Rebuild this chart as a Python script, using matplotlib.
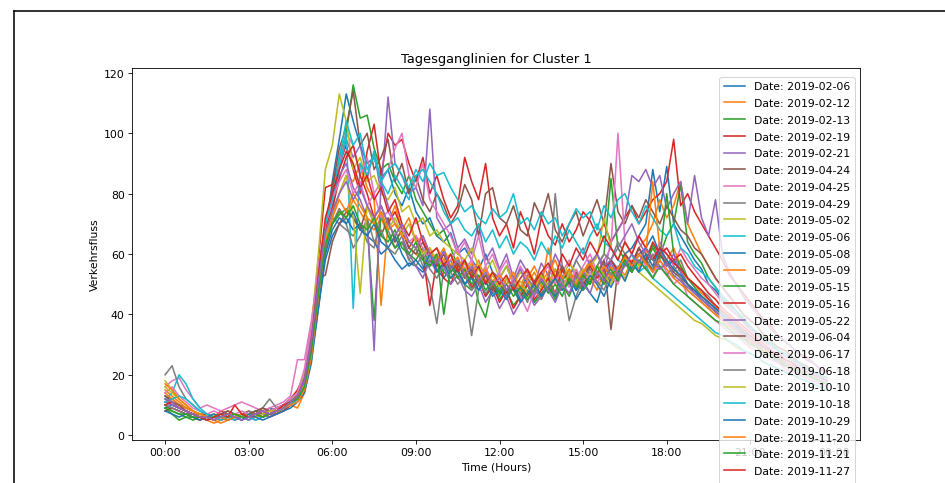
import pandas as pd
import matplotlib
matplotlib.use("Agg")
import matplotlib.pyplot as plt
import matplotlib.dates as mdates

# Daily flow curves (15-min values) for the days in cluster 1
dates = ["2019-02-06", "2019-02-12", "2019-02-13", "2019-02-19", "2019-02-21",
         "2019-04-24", "2019-04-25", "2019-04-29", "2019-05-02", "2019-05-06",
         "2019-05-08", "2019-05-09", "2019-05-15", "2019-05-16", "2019-05-22",
         "2019-06-04", "2019-06-17", "2019-06-18", "2019-10-10", "2019-10-18",
         "2019-10-29", "2019-11-20", "2019-11-21", "2019-11-27", "2019-12-04"]

d0206 = [11, 10, 9, 8, 7, 7, 6, 6, 7, 6, 7, 6, 7, 8, 7, 9, 8, 10, 11, 13, 18, 30, 47, 66,
         84, 98, 113, 104, 96, 90, 92, 85, 88, 80, 76, 82, 74, 70, 72, 66, 64, 67, 60, 62, 58, 55, 60, 54,
         52, 56, 50, 48, 53, 51, 46, 50, 55, 49, 52, 48, 54, 50, 56, 53, 58, 55, 60, 62, 66, 70, 88, 74,
         89, 70, 66, 62, 58, 55, 50, 48, 45, 42, 40, 38, 35, 34, 31, 30, 28, 26, 25, 23, 22, 21, 19, 18]
d0212 = [15, 13, 11, 9, 8, 7, 6, 5, 4, 5, 6, 5, 6, 7, 6, 7, 8, 9, 10, 12, 16, 27, 44, 60,
         72, 80, 86, 84, 90, 82, 78, 43, 70, 76, 68, 72, 64, 66, 60, 62, 58, 60, 55, 57, 53, 58, 51, 54,
         50, 47, 52, 49, 55, 51, 48, 53, 50, 56, 52, 49, 54, 58, 53, 50, 56, 52, 60, 57, 62, 65, 70, 78,
         72, 76, 84, 70, 65, 60, 56, 52, 49, 46, 43, 40, 38, 36, 33, 31, 29, 28, 26, 24, 23, 21, 20, 18]
d0213 = [9, 7, 5, 6, 6, 5, 7, 6, 5, 6, 6, 7, 6, 6, 8, 7, 8, 9, 11, 13, 17, 29, 50, 68,
         80, 92, 100, 116, 105, 106, 95, 88, 90, 84, 80, 86, 78, 74, 70, 66, 68, 62, 56, 58, 54, 44, 39, 50,
         46, 52, 48, 44, 50, 47, 53, 49, 46, 51, 55, 50, 48, 52, 56, 60, 85, 62, 58, 55, 60, 57, 63, 59,
         66, 70, 83, 64, 60, 57, 52, 49, 46, 43, 41, 38, 36, 34, 32, 30, 28, 27, 25, 24, 22, 21, 19, 18]
d0219 = [12, 10, 9, 8, 7, 6, 7, 6, 8, 7, 6, 7, 8, 7, 9, 8, 9, 10, 12, 15, 20, 35, 58, 82,
         83, 90, 96, 88, 80, 94, 103, 86, 100, 96, 98, 90, 84, 92, 80, 86, 78, 72, 76, 92, 84, 78, 90, 72,
         66, 70, 62, 74, 68, 60, 72, 66, 63, 70, 64, 68, 74, 71, 66, 70, 64, 68, 72, 76, 70, 74, 78, 80,
         84, 98, 76, 80, 74, 70, 66, 62, 58, 53, 50, 47, 44, 41, 38, 36, 33, 31, 29, 27, 26, 24, 22, 21]
d0221 = [10, 9, 8, 7, 7, 6, 6, 5, 6, 6, 7, 6, 6, 5, 6, 7, 8, 8, 10, 12, 17, 30, 50, 66,
         76, 88, 98, 92, 96, 85, 94, 80, 112, 90, 86, 80, 82, 76, 108, 72, 68, 70, 62, 65, 60, 70, 58, 62,
         55, 60, 52, 58, 54, 50, 57, 53, 60, 55, 52, 58, 62, 56, 60, 54, 64, 68, 72, 86, 84, 88, 82, 86,
         75, 80, 84, 70, 86, 72, 66, 78, 60, 54, 50, 46, 43, 40, 38, 35, 33, 31, 29, 27, 25, 24, 22, 20]
d0424 = [13, 12, 10, 9, 8, 7, 7, 6, 7, 8, 7, 6, 7, 8, 7, 8, 9, 10, 12, 14, 19, 31, 52, 70,
         82, 95, 102, 114, 96, 100, 88, 92, 98, 84, 90, 80, 86, 78, 74, 80, 76, 70, 74, 83, 78, 66, 80, 82,
         72, 70, 76, 68, 66, 77, 72, 80, 68, 64, 70, 74, 66, 72, 78, 70, 90, 74, 70, 76, 72, 78, 74, 70,
         76, 72, 68, 66, 62, 60, 56, 52, 49, 46, 43, 40, 38, 36, 33, 31, 29, 28, 26, 24, 23, 21, 20, 19]
d0425 = [16, 18, 19, 15, 12, 9, 10, 9, 8, 9, 10, 11, 10, 9, 8, 9, 10, 11, 13, 25, 25, 38, 55, 68,
         78, 90, 100, 96, 86, 92, 80, 84, 88, 95, 100, 86, 82, 90, 78, 74, 70, 66, 60, 64, 58, 66, 56, 60,
         54, 58, 50, 56, 52, 48, 53, 56, 50, 54, 58, 52, 56, 60, 54, 58, 62, 100, 64, 60, 66, 62, 58, 64,
         60, 56, 62, 58, 55, 52, 50, 47, 44, 42, 40, 37, 35, 33, 31, 29, 28, 26, 25, 23, 22, 21, 19, 18]
d0429 = [20, 23, 16, 12, 10, 8, 7, 6, 7, 6, 7, 6, 8, 7, 9, 12, 9, 10, 12, 14, 18, 29, 50, 66,
         72, 70, 68, 66, 70, 64, 62, 72, 68, 62, 66, 58, 62, 56, 50, 37, 55, 58, 52, 50, 33, 48, 53, 50,
         50, 47, 52, 49, 44, 50, 53, 48, 80, 56, 52, 58, 54, 50, 56, 60, 58, 64, 60, 56, 62, 58, 55, 60,
         57, 54, 58, 52, 50, 48, 46, 43, 41, 39, 37, 34, 32, 30, 29, 27, 25, 24, 22, 21, 20, 19, 18, 17]
d0502 = [18, 15, 12, 10, 8, 7, 6, 7, 6, 7, 6, 7, 6, 7, 8, 7, 8, 10, 11, 14, 20, 36, 60, 88,
         96, 113, 104, 88, 92, 84, 86, 80, 78, 82, 74, 76, 70, 72, 66, 68, 64, 62, 60, 58, 62, 56, 54, 58,
         52, 56, 50, 54, 51, 48, 53, 50, 55, 52, 57, 54, 50, 56, 59, 72, 62, 58, 64, 60, 56, 62, 59, 55,
         58, 52, 56, 50, 48, 46, 44, 42, 40, 38, 36, 34, 32, 31, 29, 28, 26, 25, 24, 22, 21, 20, 19, 18]
d0506 = [12, 14, 20, 17, 12, 9, 7, 6, 5, 6, 7, 6, 5, 7, 6, 8, 7, 9, 10, 12, 16, 28, 48, 66,
         74, 88, 100, 42, 90, 86, 94, 84, 88, 90, 86, 82, 88, 84, 90, 86, 87, 82, 78, 74, 76, 72, 70, 75,
         72, 74, 80, 70, 72, 68, 74, 70, 72, 66, 70, 75, 72, 74, 68, 76, 72, 78, 80, 74, 70, 76, 72, 68,
         66, 70, 62, 60, 56, 54, 52, 49, 46, 44, 41, 39, 36, 34, 32, 30, 28, 27, 25, 24, 22, 21, 20, 19]
d0508 = [9, 10, 9, 8, 7, 6, 5, 6, 6, 5, 6, 7, 6, 7, 6, 7, 7, 9, 10, 12, 15, 26, 42, 58,
         66, 70, 72, 68, 70, 66, 64, 60, 62, 58, 55, 57, 56, 54, 58, 55, 52, 56, 54, 50, 52, 48, 51, 47,
         49, 46, 50, 45, 48, 44, 47, 50, 46, 49, 52, 48, 51, 47, 44, 52, 49, 54, 58, 55, 60, 62, 66, 60,
         56, 58, 54, 50, 48, 45, 43, 41, 39, 37, 35, 33, 31, 29, 27, 26, 24, 23, 22, 20, 19, 18, 17, 16]
d0509 = [14, 12, 10, 9, 8, 6, 5, 4, 5, 6, 5, 6, 7, 6, 7, 8, 7, 9, 10, 9, 14, 25, 44, 62,
         70, 75, 72, 78, 74, 70, 68, 72, 66, 64, 68, 62, 60, 58, 62, 56, 58, 54, 57, 52, 55, 50, 53, 49,
         51, 48, 52, 46, 50, 54, 49, 62, 52, 48, 53, 50, 55, 52, 48, 54, 51, 56, 53, 58, 55, 60, 84, 62,
         58, 62, 56, 52, 50, 47, 45, 43, 40, 38, 36, 34, 32, 30, 28, 27, 25, 24, 22, 21, 20, 19, 18, 17]
d0515 = [10, 8, 7, 6, 5, 6, 6, 5, 6, 7, 6, 6, 7, 6, 7, 7, 8, 9, 11, 13, 18, 30, 48, 64,
         70, 73, 75, 72, 68, 70, 38, 74, 66, 62, 64, 60, 58, 62, 56, 58, 54, 52, 55, 50, 48, 52, 46, 49,
         45, 48, 43, 46, 50, 44, 47, 49, 45, 50, 46, 52, 48, 51, 54, 50, 53, 55, 58, 54, 60, 57, 62, 58,
         80, 60, 56, 52, 49, 46, 44, 42, 40, 38, 36, 34, 32, 30, 29, 27, 25, 24, 23, 21, 20, 19, 18, 17]
d0516 = [8, 9, 8, 7, 6, 5, 6, 5, 6, 5, 6, 7, 6, 6, 7, 6, 7, 8, 10, 12, 17, 30, 50, 68,
         75, 85, 92, 96, 86, 80, 72, 76, 70, 74, 68, 62, 66, 60, 43, 58, 52, 50, 56, 55, 49, 52, 46, 50,
         44, 48, 42, 46, 50, 45, 48, 52, 47, 55, 50, 53, 49, 56, 52, 55, 58, 54, 60, 57, 62, 58, 64, 60,
         62, 58, 60, 56, 53, 50, 47, 45, 42, 40, 38, 36, 34, 32, 30, 28, 27, 25, 24, 22, 21, 20, 19, 18]
d0522 = [11, 10, 9, 8, 7, 6, 5, 6, 5, 6, 5, 6, 5, 6, 7, 6, 8, 9, 11, 13, 19, 33, 54, 70,
         80, 86, 90, 82, 78, 72, 28, 84, 76, 70, 66, 60, 56, 52, 58, 54, 56, 50, 53, 48, 46, 50, 44, 48,
         42, 46, 40, 44, 48, 43, 46, 50, 52, 48, 54, 50, 53, 57, 60, 56, 58, 62, 66, 70, 64, 60, 58, 62,
         56, 60, 54, 50, 48, 46, 44, 42, 40, 38, 36, 34, 32, 30, 28, 27, 25, 24, 23, 21, 20, 19, 18, 17]
d0604 = [13, 11, 10, 8, 7, 6, 7, 6, 7, 8, 7, 6, 7, 8, 9, 8, 9, 10, 11, 13, 17, 28, 52, 53,
         64, 70, 74, 72, 68, 76, 70, 66, 72, 64, 68, 62, 60, 64, 58, 56, 60, 54, 57, 52, 55, 50, 53, 48,
         50, 47, 52, 49, 46, 51, 54, 48, 52, 56, 50, 54, 51, 57, 53, 58, 35, 55, 60, 56, 62, 58, 54, 60,
         57, 54, 52, 50, 47, 45, 43, 41, 39, 37, 35, 33, 31, 29, 28, 26, 25, 23, 22, 21, 20, 19, 18, 17]
d0617 = [14, 16, 13, 11, 9, 8, 7, 8, 7, 6, 7, 8, 7, 6, 7, 8, 9, 10, 12, 14, 22, 36, 56, 70,
         78, 84, 88, 80, 84, 76, 80, 72, 74, 70, 68, 64, 66, 62, 58, 60, 56, 58, 62, 55, 58, 52, 56, 50,
         54, 48, 52, 46, 41, 48, 45, 50, 47, 52, 49, 55, 51, 54, 50, 56, 53, 50, 57, 54, 60, 56, 52, 58,
         54, 50, 52, 46, 44, 42, 40, 38, 36, 34, 33, 31, 29, 28, 26, 25, 24, 22, 21, 20, 19, 18, 17, 16]
d0618 = [10, 9, 8, 7, 7, 6, 5, 6, 6, 7, 6, 5, 6, 7, 6, 7, 8, 9, 10, 12, 16, 27, 45, 62,
         70, 75, 70, 62, 66, 72, 64, 68, 62, 60, 64, 58, 56, 60, 55, 52, 57, 54, 50, 53, 48, 51, 47, 50,
         48, 45, 50, 47, 52, 49, 45, 50, 47, 53, 38, 46, 52, 55, 51, 48, 54, 52, 57, 54, 58, 55, 60, 56,
         53, 56, 52, 48, 46, 44, 42, 40, 38, 36, 34, 32, 31, 29, 28, 26, 25, 23, 22, 21, 20, 19, 18, 17]
d1010 = [16, 14, 12, 10, 8, 7, 6, 7, 6, 6, 7, 6, 7, 6, 7, 8, 8, 9, 11, 12, 17, 30, 52, 66,
         74, 80, 86, 72, 47, 76, 70, 74, 68, 72, 66, 70, 64, 60, 62, 58, 56, 60, 54, 57, 52, 55, 50, 53,
         49, 52, 48, 51, 47, 50, 53, 49, 52, 48, 54, 51, 55, 52, 56, 53, 50, 55, 52, 57, 54, 52, 50, 48,
         46, 44, 42, 40, 38, 37, 35, 33, 32, 31, 29, 28, 27, 26, 24, 23, 22, 21, 20, 19, 18, 17, 16, 15]
d1018 = [11, 12, 13, 12, 10, 8, 7, 6, 5, 6, 5, 7, 6, 5, 6, 7, 8, 9, 10, 12, 16, 29, 50, 70,
         78, 92, 104, 96, 100, 88, 92, 84, 80, 86, 82, 78, 86, 88, 84, 80, 74, 70, 72, 68, 66, 70, 64, 68,
         62, 66, 60, 64, 62, 58, 64, 60, 66, 62, 68, 64, 60, 66, 70, 64, 62, 58, 56, 60, 54, 56, 52, 50,
         48, 46, 44, 42, 40, 38, 36, 34, 33, 31, 30, 28, 27, 26, 24, 23, 22, 21, 20, 19, 18, 17, 16, 15]
d1029 = [8, 7, 6, 7, 6, 5, 6, 7, 6, 5, 6, 5, 7, 6, 5, 6, 7, 8, 9, 11, 14, 24, 42, 60,
         68, 72, 70, 74, 68, 66, 70, 64, 62, 66, 60, 56, 58, 55, 60, 54, 57, 52, 55, 50, 53, 48, 51, 46,
         48, 45, 49, 44, 47, 50, 46, 49, 52, 48, 51, 45, 49, 53, 50, 46, 52, 55, 51, 57, 54, 60, 56, 62,
         58, 55, 53, 50, 48, 46, 44, 42, 40, 38, 36, 34, 33, 31, 29, 28, 26, 25, 24, 22, 21, 20, 19, 18]
d1120 = [17, 15, 12, 10, 8, 7, 6, 5, 6, 5, 6, 7, 6, 7, 6, 7, 8, 9, 10, 11, 15, 26, 46, 64,
         72, 78, 74, 80, 76, 72, 70, 74, 68, 70, 66, 64, 62, 66, 60, 58, 62, 56, 59, 54, 57, 52, 55, 51,
         53, 50, 54, 48, 52, 56, 51, 54, 58, 52, 55, 50, 54, 57, 53, 56, 52, 55, 59, 56, 60, 57, 54, 58,
         55, 52, 50, 48, 46, 44, 42, 40, 38, 36, 35, 33, 31, 30, 28, 27, 25, 24, 23, 21, 20, 19, 18, 17]
d1121 = [9, 8, 7, 7, 6, 6, 5, 6, 7, 6, 7, 6, 6, 7, 6, 7, 8, 9, 11, 12, 16, 28, 47, 63,
         70, 74, 72, 76, 70, 68, 72, 66, 64, 68, 62, 60, 64, 58, 56, 60, 40, 56, 52, 55, 50, 53, 48, 51,
         47, 50, 46, 49, 45, 48, 51, 47, 50, 46, 52, 49, 53, 50, 56, 52, 55, 51, 57, 54, 58, 55, 52, 56,
         53, 50, 48, 46, 44, 42, 40, 38, 37, 35, 33, 32, 30, 29, 27, 26, 25, 23, 22, 21, 20, 19, 18, 17]
d1127 = [10, 11, 9, 8, 7, 6, 5, 6, 7, 6, 10, 7, 6, 7, 8, 7, 8, 10, 11, 13, 18, 31, 53, 72,
         80, 88, 94, 90, 82, 86, 78, 82, 74, 78, 70, 66, 72, 64, 60, 62, 56, 60, 54, 58, 52, 56, 50, 54,
         50, 53, 48, 52, 55, 50, 54, 57, 52, 60, 56, 62, 58, 64, 60, 66, 62, 58, 64, 60, 66, 62, 58, 62,
         60, 57, 55, 52, 50, 48, 45, 43, 41, 39, 37, 35, 33, 31, 29, 28, 26, 25, 24, 22, 21, 20, 19, 18]
d1204 = [12, 11, 9, 8, 7, 6, 6, 5, 6, 7, 6, 5, 6, 7, 8, 7, 8, 9, 11, 13, 18, 31, 51, 67,
         74, 80, 84, 78, 82, 76, 72, 76, 70, 66, 70, 64, 62, 66, 60, 57, 61, 55, 58, 53, 56, 51, 54, 50,
         52, 48, 51, 55, 50, 46, 52, 48, 44, 50, 47, 53, 50, 47, 54, 51, 57, 53, 56, 60, 57, 62, 58, 55,
         57, 53, 51, 49, 47, 45, 43, 41, 39, 37, 35, 33, 32, 30, 29, 27, 26, 24, 23, 22, 21, 20, 19, 18]

series = [d0206, d0212, d0213, d0219, d0221, d0424, d0425, d0429, d0502, d0506,
          d0508, d0509, d0515, d0516, d0522, d0604, d0617, d0618, d1010, d1018,
          d1029, d1120, d1121, d1127, d1204]

times = pd.date_range("2019-01-01 00:00", periods=96, freq="15min")

plt.rcParams["font.size"] = 10.4

fig = plt.figure(figsize=(12.6, 6.453), dpi=75)
ax = fig.add_axes([0.1397, 0.0888, 0.7704, 0.7686])

for date, values in zip(dates, series):
    ax.plot(times, values, label=f"Date: {date}")

ax.xaxis.set_major_locator(mdates.HourLocator(byhour=range(0, 24, 3)))
ax.xaxis.set_major_formatter(mdates.DateFormatter("%H:%M"))
ax.set_title("Tagesganglinien for Cluster 1")
ax.set_xlabel("Time (Hours)")
ax.set_ylabel("Verkehrsfluss")
ax.legend(loc="upper right", bbox_to_anchor=(1.0, 0.99), labelspacing=0.62)

# screenshot frame
fig.add_artist(plt.Line2D([14 / 945, 1], [1 - 12 / 484, 1 - 12 / 484],
                          transform=fig.transFigure, color="black", lw=1.5))
fig.add_artist(plt.Line2D([14 / 945, 14 / 945], [0, 1 - 12 / 484],
                          transform=fig.transFigure, color="black", lw=1.5))

fig.savefig("out.png", dpi=75)
